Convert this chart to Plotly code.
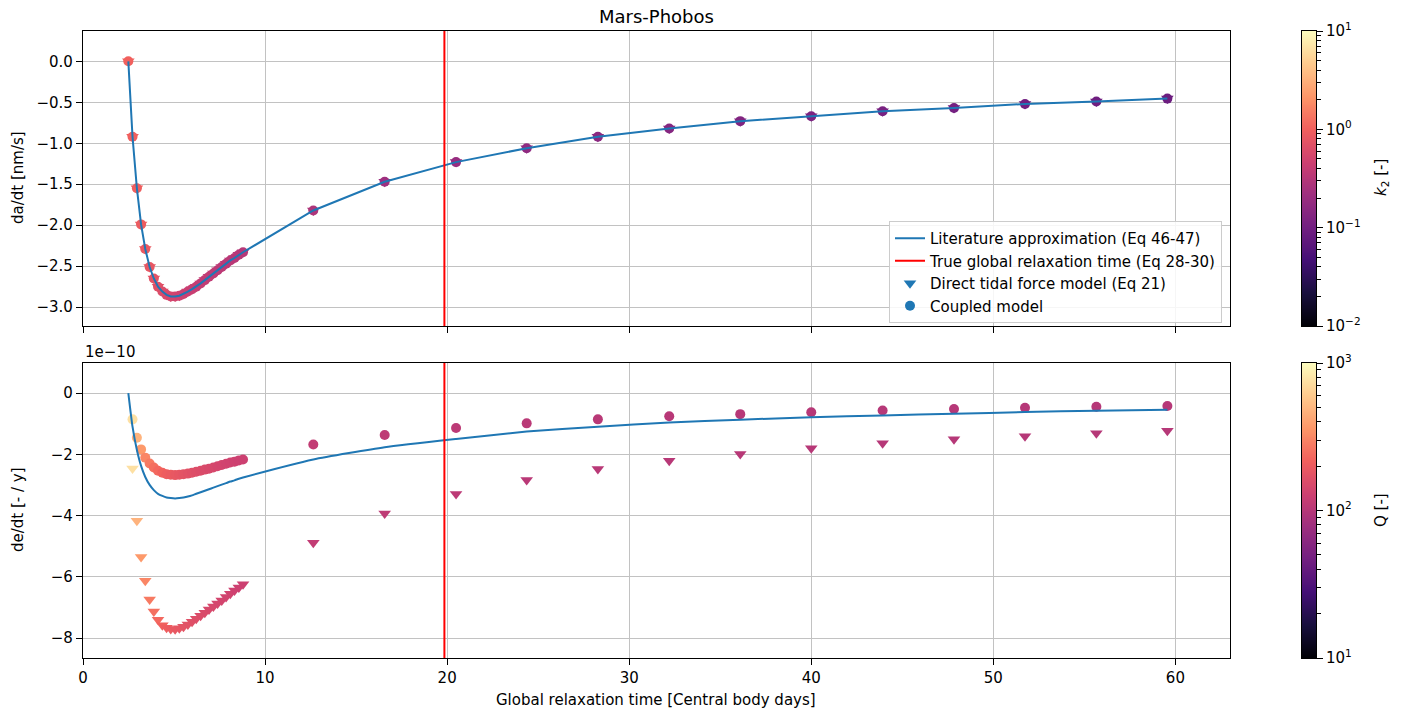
import numpy as np
import plotly.graph_objects as go
import plotly.express as px

# Global relaxation time [central body days]
t_relax = [2.49, 2.72, 2.96, 3.19, 3.42, 3.66, 3.89, 4.12, 4.36, 4.59, 4.82, 5.06, 5.29, 5.52,
           5.76, 5.99, 6.22, 6.46, 6.69, 6.92, 7.16, 7.39, 7.62, 7.86, 8.09, 8.32, 8.56, 8.79,
           12.65, 16.57, 20.49, 24.37, 28.28, 32.2, 36.1, 40.0, 43.92, 47.84, 51.74, 55.66, 59.56]

# da/dt [nm/s]
dadt_model = [0.00, -0.92, -1.55, -1.99, -2.29, -2.51, -2.65, -2.75, -2.81, -2.85, -2.87, -2.87,
              -2.86, -2.84, -2.81, -2.78, -2.75, -2.71, -2.67, -2.63, -2.59, -2.55, -2.51, -2.47,
              -2.43, -2.40, -2.36, -2.33,
              -1.82, -1.47, -1.23, -1.06, -0.92, -0.82, -0.73, -0.67, -0.61, -0.57, -0.52, -0.49, -0.455]
dadt_lit = list(dadt_model)

# de/dt [1e-10 / y]
dedt_lit = [0.00, -1.10, -1.86, -2.38, -2.74, -3.00, -3.17, -3.29, -3.36, -3.41, -3.43, -3.44,
            -3.43, -3.41, -3.38, -3.34, -3.29, -3.24, -3.19, -3.14, -3.09, -3.04, -2.99, -2.94,
            -2.89, -2.85, -2.80, -2.76,
            -2.17, -1.77, -1.50, -1.26, -1.10, -0.96, -0.87, -0.79, -0.73, -0.68, -0.62, -0.58, -0.545]
dedt_coupled = [None, -0.86, -1.46, -1.84, -2.11, -2.30, -2.43, -2.54, -2.60, -2.65, -2.67, -2.68,
                -2.67, -2.65, -2.63, -2.60, -2.57, -2.54, -2.50, -2.47, -2.43, -2.39, -2.35, -2.31,
                -2.27, -2.24, -2.20, -2.17,
                -1.68, -1.37, -1.14, -0.99, -0.86, -0.76, -0.69, -0.63, -0.57, -0.52, -0.48, -0.45, -0.425]
dedt_direct = [None, -2.46, -4.17, -5.35, -6.13, -6.74, -7.13, -7.40, -7.58, -7.66, -7.70, -7.71,
               -7.68, -7.63, -7.56, -7.47, -7.37, -7.27, -7.17, -7.07, -6.97, -6.87, -6.77, -6.66,
               -6.55, -6.45, -6.35, -6.24,
               -4.89, -3.93, -3.30, -2.84, -2.48, -2.21, -1.99, -1.80, -1.64, -1.51, -1.41, -1.31, -1.23]

# Love number k2 and quality factor Q per point
k2 = [1.0, 0.98, 0.95, 0.9, 0.85, 0.8, 0.74, 0.68, 0.63, 0.59, 0.55, 0.52, 0.49, 0.47, 0.45, 0.43,
      0.415, 0.4, 0.39, 0.38, 0.37, 0.36, 0.35, 0.345, 0.34, 0.33, 0.325, 0.32,
      0.28, 0.22, 0.19, 0.17, 0.155, 0.14, 0.13, 0.12, 0.112, 0.105, 0.1, 0.095, 0.09]
Q = [None, 750, 480, 370, 310, 275, 250, 232, 218, 207, 198, 190, 183, 177, 171, 166, 161, 157,
     153, 149, 146, 143, 140, 137, 135, 132, 130, 128,
     115, 110, 107, 105, 104, 103, 102, 102, 101, 101, 101, 100, 100]

t_true_relax = 19.85

k2_ticks = [-2, -1, 0, 1]
Q_ticks = [1, 2, 3]

magma = px.colors.sequential.Magma
BLUE = "#1f77b4"
FONT = "DejaVu Sans"
FS = 15

log_k2 = np.log10(np.array(k2, dtype=float))
log_Q = np.log10(np.array([np.nan if q is None else q for q in Q], dtype=float))

fig = go.Figure()

# top panel: semi-major axis rate
marker_top = dict(color=log_k2, colorscale=magma, cmin=-2, cmax=1, size=10, line=dict(width=0))
fig.add_trace(go.Scatter(x=t_relax, y=dadt_model, mode="markers", showlegend=False,
                         marker=dict(marker_top, symbol="triangle-down", size=11), xaxis="x", yaxis="y"))
fig.add_trace(go.Scatter(x=t_relax, y=dadt_model, mode="markers", showlegend=False,
                         marker=marker_top, xaxis="x", yaxis="y"))
fig.add_trace(go.Scatter(x=t_relax, y=dadt_lit, mode="lines", line=dict(color=BLUE, width=2),
                         name="Literature approximation (Eq 46-47)", legendrank=1,
                         xaxis="x", yaxis="y"))

# bottom panel: eccentricity rate
marker_bot = dict(color=log_Q, colorscale=magma, cmin=1, cmax=3, size=10, line=dict(width=0))
fig.add_trace(go.Scatter(x=t_relax, y=dedt_direct, mode="markers", showlegend=False,
                         marker=dict(marker_bot, symbol="triangle-down", size=11), xaxis="x2", yaxis="y2"))
fig.add_trace(go.Scatter(x=t_relax, y=dedt_coupled, mode="markers", showlegend=False,
                         marker=marker_bot, xaxis="x2", yaxis="y2"))
fig.add_trace(go.Scatter(x=t_relax, y=dedt_lit, mode="lines",
                         line=dict(color=BLUE, width=2, shape="spline", smoothing=0.5),
                         showlegend=False, xaxis="x2", yaxis="y2"))

# legend-only entries
fig.add_trace(go.Scatter(x=[None], y=[None], mode="lines", line=dict(color="red", width=2),
                         name="True global relaxation time (Eq 28-30)", legendrank=2, xaxis="x", yaxis="y"))
fig.add_trace(go.Scatter(x=[None], y=[None], mode="markers",
                         marker=dict(color=BLUE, symbol="triangle-down", size=11),
                         name="Direct tidal force model (Eq 21)", legendrank=3, xaxis="x", yaxis="y"))
fig.add_trace(go.Scatter(x=[None], y=[None], mode="markers", marker=dict(color=BLUE, size=10),
                         name="Coupled model", legendrank=4, xaxis="x", yaxis="y"))

# colour bars drawn as gradients on their own log-labelled axes
grad_k2 = np.linspace(-2, 1, 300)
grad_Q = np.linspace(1, 3, 300)
fig.add_trace(go.Heatmap(z=grad_k2.reshape(-1, 1), x=[0], y=grad_k2, colorscale=magma,
                         zmin=-2, zmax=1, showscale=False, hoverinfo="skip", xaxis="x3", yaxis="y3"))
fig.add_trace(go.Heatmap(z=grad_Q.reshape(-1, 1), x=[0], y=grad_Q, colorscale=magma,
                         zmin=1, zmax=3, showscale=False, hoverinfo="skip", xaxis="x4", yaxis="y4"))

XD = [83 / 1416, 1230 / 1416]
YD_TOP = [1 - 326 / 711, 1 - 31 / 711]
YD_BOT = [1 - 658 / 711, 1 - 363 / 711]
CBX = [1302 / 1416, 1316 / 1416]

grid = dict(showgrid=True, gridcolor="#c2c2c2", gridwidth=1, zeroline=False, automargin=False,
            showline=True, mirror=True, linecolor="black", linewidth=1.2,
            ticks="outside", ticklen=6, tickwidth=1.2, tickcolor="black",
            tickfont=dict(family=FONT, size=FS, color="black"))

xticks = list(range(0, 61, 10))


def fmt(v, d):
    s = f"{v:.{d}f}"
    return s.replace("-", "\u2212")


def minor_log(lo, hi):
    vals = []
    for dec in range(lo, hi):
        for m in range(2, 10):
            vals.append(dec + np.log10(m))
    return vals


cb_axis = dict(showline=True, mirror=True, linecolor="black", linewidth=1, showgrid=False,
               zeroline=False, side="right", ticks="outside", ticklen=6, tickwidth=1.2,
               automargin=False, tickcolor="black", tickfont=dict(family=FONT, size=FS, color="black"))
cb_x = dict(showline=True, mirror=True, linecolor="black", linewidth=1, showgrid=False,
            automargin=False, zeroline=False, showticklabels=False, ticks="",
            range=[-0.5, 0.5], fixedrange=True)

fig.update_layout(
    width=1416, height=711, autosize=False, margin=dict(l=0, r=0, t=0, b=0, pad=0),
    paper_bgcolor="white", plot_bgcolor="white",
    font=dict(family=FONT, size=FS, color="black"),
    xaxis=dict(grid, domain=XD, range=[0, 63], tickvals=xticks, showticklabels=False, anchor="y"),
    yaxis=dict(grid, domain=YD_TOP, range=[-3.23, 0.37],
               tickvals=[0, -0.5, -1, -1.5, -2, -2.5, -3],
               ticktext=[fmt(v, 1) for v in [0, -0.5, -1, -1.5, -2, -2.5, -3]], anchor="x"),
    xaxis2=dict(grid, domain=XD, range=[0, 63], tickvals=xticks, anchor="y2"),
    yaxis2=dict(grid, domain=YD_BOT, range=[-8.65, 0.98], tickvals=[0, -2, -4, -6, -8],
                ticktext=[fmt(v, 0) for v in [0, -2, -4, -6, -8]], anchor="x2"),
    xaxis3=dict(cb_x, domain=CBX, anchor="y3"),
    yaxis3=dict(cb_axis, domain=YD_TOP, range=[-2, 1], anchor="x3", tickvals=k2_ticks,
                ticktext=[f"10<sup>{fmt(v, 0)}</sup>" for v in k2_ticks],
                minor=dict(tickvals=minor_log(-2, 1), ticklen=3.5, tickcolor="black",
                           ticks="outside", tickwidth=1)),
    xaxis4=dict(cb_x, domain=CBX, anchor="y4"),
    yaxis4=dict(cb_axis, domain=YD_BOT, range=[1, 3], anchor="x4", tickvals=Q_ticks,
                ticktext=[f"10<sup>{v}</sup>" for v in Q_ticks],
                minor=dict(tickvals=minor_log(1, 3), ticklen=3.5, tickcolor="black",
                           ticks="outside", tickwidth=1)),
    legend=dict(x=1222 / 1416, y=1 - 221 / 711, xanchor="right", yanchor="top",
                bgcolor="rgba(255,255,255,0.85)", bordercolor="#cccccc", borderwidth=1,
                font=dict(family=FONT, size=FS, color="black"), tracegroupgap=0,
                itemwidth=30),
    showlegend=True,
)

# true global relaxation time in both panels
for xr, yr in [("x", "y domain"), ("x2", "y2 domain")]:
    fig.add_shape(type="line", xref=xr, yref=yr, x0=t_true_relax, x1=t_true_relax, y0=0, y1=1,
                  line=dict(color="red", width=2))

ann = [
    dict(text="Mars-Phobos", x=656 / 1416, y=1 - 16 / 711, size=18, angle=0),
    dict(text="da/dt [nm/s]", x=18 / 1416, y=1 - 178 / 711, size=FS, angle=-90),
    dict(text="de/dt [- / y]", x=18 / 1416, y=1 - 510 / 711, size=FS, angle=-90),
    dict(text="Global relaxation time [Central body days]", x=656 / 1416, y=1 - 700 / 711,
         size=FS, angle=0),
    dict(text="<i>k</i><sub>2</sub> [-]", x=1381 / 1416, y=1 - 178 / 711, size=FS, angle=-90),
    dict(text="Q [-]", x=1381 / 1416, y=1 - 510 / 711, size=FS, angle=-90),
]
for a in ann:
    fig.add_annotation(text=a["text"], x=a["x"], y=a["y"], xref="paper", yref="paper",
                       showarrow=False, textangle=a["angle"], xanchor="center", yanchor="middle",
                       font=dict(family=FONT, size=a["size"], color="black"))
fig.add_annotation(text="1e\u221210", x=83 / 1416, y=1 - 352 / 711, xref="paper", yref="paper",
                   showarrow=False, xanchor="left", yanchor="middle",
                   font=dict(family=FONT, size=FS, color="black"))

fig.write_html("out.html")
